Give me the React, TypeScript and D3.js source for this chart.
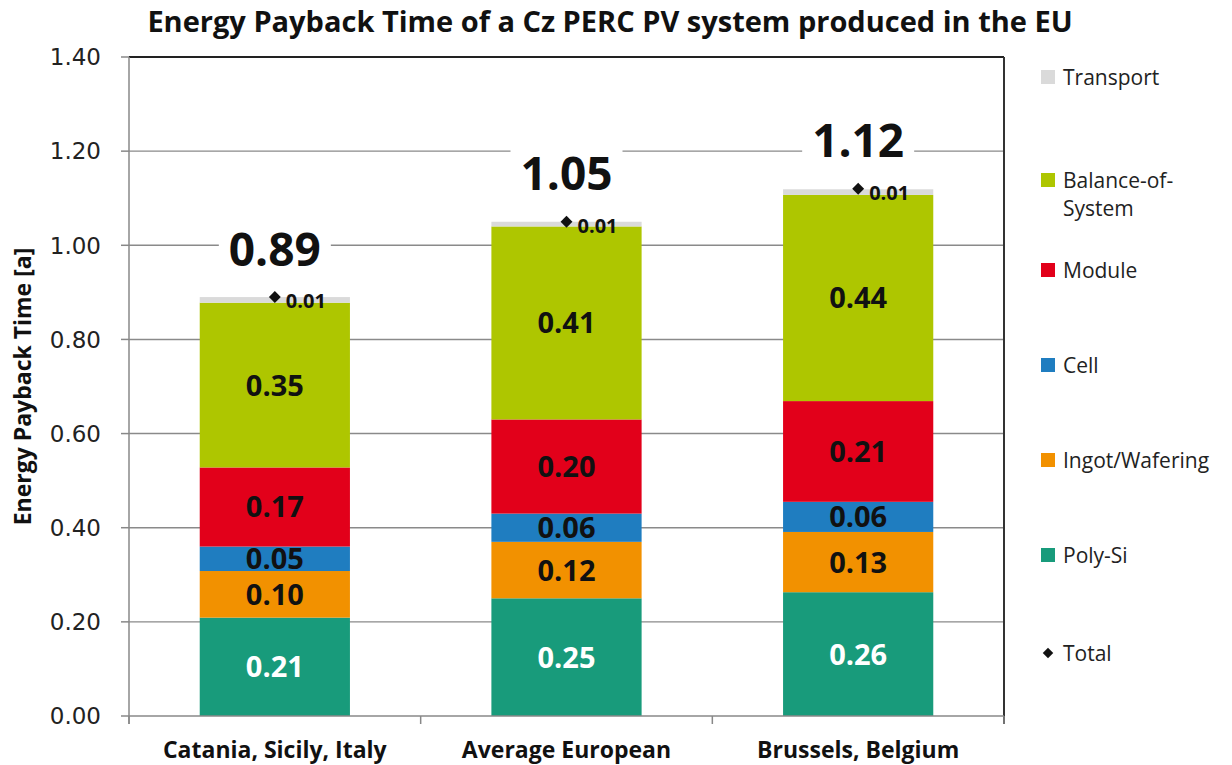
import React from "react";
import * as d3 from "d3";

const categories = ["Catania, Sicily, Italy", "Average European", "Brussels, Belgium"];
const seriesNames = ["Poly-Si", "Ingot/Wafering", "Cell", "Module", "Balance-of-System", "Transport"];
const polySi = [0.209, 0.25, 0.263];
const ingotWafering = [0.099, 0.12, 0.128];
const cell = [0.052, 0.06, 0.064];
const moduleVals = [0.168, 0.2, 0.214];
const balanceOfSystem = [0.35, 0.41, 0.438];
const transport = [0.012, 0.01, 0.012];
const totals = [0.89, 1.05, 1.12];
const yTicks = [0, 0.2, 0.4, 0.6, 0.8, 1.0, 1.2, 1.4];
const colors = ["#189B7B", "#F29100", "#1F7DC0", "#E2001A", "#AEC600", "#DADADA"];
const legendLabels = [["Transport"], ["Balance-of-", "System"], ["Module"], ["Cell"], ["Ingot/Wafering"], ["Poly-Si"], ["Total"]];

const FONT = "'Open Sans', Lato, sans-serif";

export default function App() {
  const W = 1232, H = 765;
  const left = 129, right = 1004, top = 57, bottom = 716;
  const x = d3.scaleBand<string>().domain(categories).range([left, right]).paddingInner(0.485).paddingOuter(0.2425);
  const y = d3.scaleLinear().domain([0, 1.4]).range([bottom, top]);
  const valueArrays = [polySi, ingotWafering, cell, moduleVals, balanceOfSystem, transport];
  const rows = categories.map((c, i) => {
    const r: any = { cat: c };
    seriesNames.forEach((s, k) => (r[s] = valueArrays[k][i]));
    return r;
  });
  const stacked = d3.stack<any>().keys(seriesNames)(rows);
  const step = x.step();
  const boundaries = [0, 1, 2, 3].map((i) => left + i * step);
  const legendY = [77, 180, 270, 365, 460, 555, 653];

  return (
    <svg width={W} height={H} style={{ position: "absolute", left: 0, top: 0, background: "#fff" }} fontFamily={FONT}>
      <text x={610} y={32} textAnchor="middle" fontSize={29} fontWeight="bold" fill="#111">
        Energy Payback Time of a Cz PERC PV system produced in the EU
      </text>
      {/* gridlines */}
      {yTicks.filter((t) => t > 0 && t < 1.4).map((t) => (
        <line key={t} x1={left} x2={right} y1={y(t)} y2={y(t)} stroke="#8a8a8a" strokeWidth={1.4} />
      ))}
      <line x1={left} x2={right} y1={y(1.4)} y2={y(1.4)} stroke="#222" strokeWidth={2} />
      <line x1={right} x2={right} y1={top} y2={bottom + 8} stroke="#333" strokeWidth={2} />
      {/* left axis */}
      <line x1={left} x2={left} y1={top} y2={bottom + 8} stroke="#888" strokeWidth={1.5} />
      {yTicks.map((t) => (
        <g key={t}>
          <line x1={left - 8} x2={left} y1={y(t)} y2={y(t)} stroke="#888" strokeWidth={1.5} />
          <text x={101} y={y(t)} dy="0.36em" textAnchor="end" fontSize={23} fill="#222" fontFamily="'DejaVu Sans', sans-serif">
            {t.toFixed(2)}
          </text>
        </g>
      ))}
      <text transform={`translate(23,${(top + bottom) / 2}) rotate(-90)`} textAnchor="middle" dy="0.36em" fontSize={23} fontWeight="bold" fill="#111">
        Energy Payback Time [a]
      </text>
      {/* bars */}
      {stacked.map((layer, k) => (
        <g key={layer.key}>
          {layer.map((d, i) => (
            <rect key={i} x={x(categories[i])} width={x.bandwidth()} y={y(d[1])} height={y(d[0]) - y(d[1])} fill={colors[k]} />
          ))}
        </g>
      ))}
      {/* bottom axis */}
      <line x1={left} x2={right} y1={bottom} y2={bottom} stroke="#888" strokeWidth={1.5} />
      {boundaries.map((b, i) => (
        <line key={i} x1={b} x2={b} y1={bottom} y2={bottom + 8} stroke="#888" strokeWidth={1.5} />
      ))}
      {/* segment labels */}
      {stacked.slice(0, 5).map((layer, k) => (
        <g key={layer.key}>
          {layer.map((d, i) => (
            <text key={i} x={x(categories[i])! + x.bandwidth() / 2} y={(y(d[0]) + y(d[1])) / 2} dy="0.36em" textAnchor="middle" fontSize={29} fontWeight="bold" fill={k === 0 ? "#fff" : "#111"}>
              {valueArrays[k][i].toFixed(2)}
            </text>
          ))}
        </g>
      ))}
      {/* totals */}
      {totals.map((t, i) => {
        const cx = x(categories[i])! + x.bandwidth() / 2;
        const cy = y(t);
        return (
          <g key={i}>
            <path d={d3.symbol(d3.symbolDiamond2, 90)()!} transform={`translate(${cx},${cy})`} fill="#111" />
            <text x={cx + 11} y={cy + 4} dy="0.36em" fontSize={20} fontWeight="bold" fill="#111">
              {transport[i].toFixed(2)}
            </text>
            <rect x={cx - 56} y={cy - 72} width={112} height={46} fill="#fff" />
            <text x={cx} y={cy - 48} dy="0.36em" textAnchor="middle" fontSize={46} fontWeight="bold" fill="#111">
              {t.toFixed(2)}
            </text>
          </g>
        );
      })}
      {/* x labels */}
      {categories.map((c) => (
        <text key={c} x={x(c)! + x.bandwidth() / 2} y={750} dy="0.36em" textAnchor="middle" fontSize={23} fontWeight="bold" fill="#111">
          {c}
        </text>
      ))}
      {/* legend */}
      {legendLabels.map((lines, i) => {
        const ly = legendY[i];
        const isTotal = i === legendLabels.length - 1;
        const color = isTotal ? "#111" : colors[5 - i];
        return (
          <g key={i}>
            {isTotal ? (
              <path d={d3.symbol(d3.symbolDiamond2, 70)()!} transform={`translate(1048,${ly})`} fill="#111" />
            ) : (
              <rect x={1041} y={ly - 7} width={14} height={14} fill={color} />
            )}
            {lines.map((l, j) => (
              <text key={j} x={1063} y={ly + j * 28} dy="0.36em" fontSize={21} fill="#222">
                {l}
              </text>
            ))}
          </g>
        );
      })}
    </svg>
  );
}
